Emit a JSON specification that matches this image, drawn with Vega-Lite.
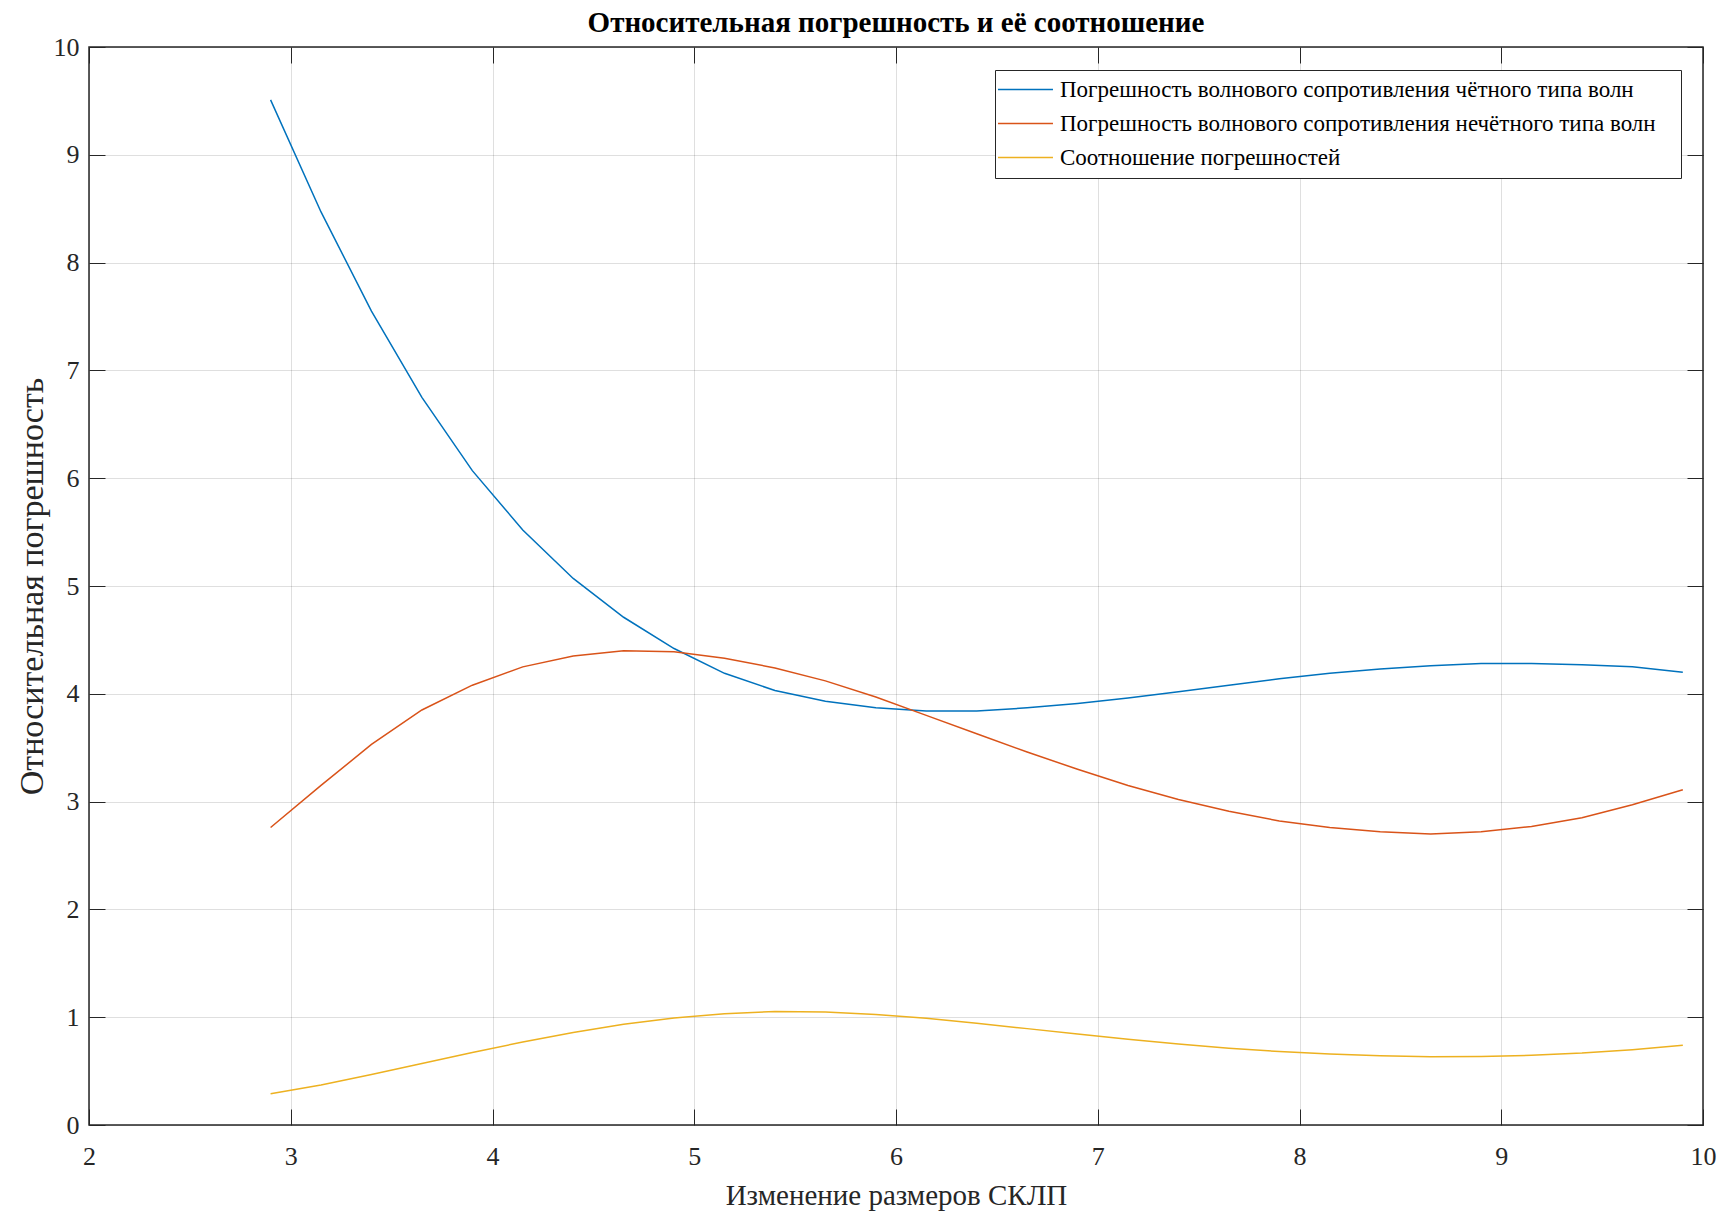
{
  "$schema": "https://vega.github.io/schema/vega-lite/v6.json",
  "autosize": "none",
  "width": 1614,
  "height": 1078,
  "padding": {"left": 89, "top": 47, "right": 25, "bottom": 100},
  "background": "white",
  "title": {
    "text": "Относительная погрешность и её соотношение",
    "font": "Liberation Serif",
    "fontSize": 29,
    "fontWeight": "bold",
    "color": "#000000",
    "anchor": "middle",
    "offset": -4
  },
  "config": {
    "view": {"stroke": "#262626", "strokeWidth": 1.5},
    "font": "Liberation Serif"
  },
  "data": {
    "values": [
      {"x": 2.9, "s": "Погрешность волнового сопротивления чётного типа волн", "v": 9.51},
      {"x": 3.15, "s": "Погрешность волнового сопротивления чётного типа волн", "v": 8.47},
      {"x": 3.4, "s": "Погрешность волнового сопротивления чётного типа волн", "v": 7.55},
      {"x": 3.65, "s": "Погрешность волнового сопротивления чётного типа волн", "v": 6.75},
      {"x": 3.9, "s": "Погрешность волнового сопротивления чётного типа волн", "v": 6.07},
      {"x": 4.15, "s": "Погрешность волнового сопротивления чётного типа волн", "v": 5.52},
      {"x": 4.4, "s": "Погрешность волнового сопротивления чётного типа волн", "v": 5.07},
      {"x": 4.65, "s": "Погрешность волнового сопротивления чётного типа волн", "v": 4.71},
      {"x": 4.9, "s": "Погрешность волнового сопротивления чётного типа волн", "v": 4.42},
      {"x": 5.15, "s": "Погрешность волнового сопротивления чётного типа волн", "v": 4.19},
      {"x": 5.4, "s": "Погрешность волнового сопротивления чётного типа волн", "v": 4.03},
      {"x": 5.65, "s": "Погрешность волнового сопротивления чётного типа волн", "v": 3.93},
      {"x": 5.9, "s": "Погрешность волнового сопротивления чётного типа волн", "v": 3.87},
      {"x": 6.15, "s": "Погрешность волнового сопротивления чётного типа волн", "v": 3.84},
      {"x": 6.4, "s": "Погрешность волнового сопротивления чётного типа волн", "v": 3.84},
      {"x": 6.65, "s": "Погрешность волнового сопротивления чётного типа волн", "v": 3.87},
      {"x": 6.9, "s": "Погрешность волнового сопротивления чётного типа волн", "v": 3.91},
      {"x": 7.15, "s": "Погрешность волнового сопротивления чётного типа волн", "v": 3.96},
      {"x": 7.4, "s": "Погрешность волнового сопротивления чётного типа волн", "v": 4.02},
      {"x": 7.65, "s": "Погрешность волнового сопротивления чётного типа волн", "v": 4.08},
      {"x": 7.9, "s": "Погрешность волнового сопротивления чётного типа волн", "v": 4.14},
      {"x": 8.15, "s": "Погрешность волнового сопротивления чётного типа волн", "v": 4.19},
      {"x": 8.4, "s": "Погрешность волнового сопротивления чётного типа волн", "v": 4.23},
      {"x": 8.65, "s": "Погрешность волнового сопротивления чётного типа волн", "v": 4.26},
      {"x": 8.9, "s": "Погрешность волнового сопротивления чётного типа волн", "v": 4.28},
      {"x": 9.15, "s": "Погрешность волнового сопротивления чётного типа волн", "v": 4.28},
      {"x": 9.4, "s": "Погрешность волнового сопротивления чётного типа волн", "v": 4.27},
      {"x": 9.65, "s": "Погрешность волнового сопротивления чётного типа волн", "v": 4.25},
      {"x": 9.9, "s": "Погрешность волнового сопротивления чётного типа волн", "v": 4.2},
      {"x": 2.9, "s": "Погрешность волнового сопротивления нечётного типа волн", "v": 2.76},
      {"x": 3.15, "s": "Погрешность волнового сопротивления нечётного типа волн", "v": 3.15},
      {"x": 3.4, "s": "Погрешность волнового сопротивления нечётного типа волн", "v": 3.53},
      {"x": 3.65, "s": "Погрешность волнового сопротивления нечётного типа волн", "v": 3.85},
      {"x": 3.9, "s": "Погрешность волнового сопротивления нечётного типа волн", "v": 4.08},
      {"x": 4.15, "s": "Погрешность волнового сопротивления нечётного типа волн", "v": 4.25},
      {"x": 4.4, "s": "Погрешность волнового сопротивления нечётного типа волн", "v": 4.35},
      {"x": 4.65, "s": "Погрешность волнового сопротивления нечётного типа волн", "v": 4.4},
      {"x": 4.9, "s": "Погрешность волнового сопротивления нечётного типа волн", "v": 4.39},
      {"x": 5.15, "s": "Погрешность волнового сопротивления нечётного типа волн", "v": 4.33},
      {"x": 5.4, "s": "Погрешность волнового сопротивления нечётного типа волн", "v": 4.24},
      {"x": 5.65, "s": "Погрешность волнового сопротивления нечётного типа волн", "v": 4.12},
      {"x": 5.9, "s": "Погрешность волнового сопротивления нечётного типа волн", "v": 3.97},
      {"x": 6.15, "s": "Погрешность волнового сопротивления нечётного типа волн", "v": 3.8},
      {"x": 6.4, "s": "Погрешность волнового сопротивления нечётного типа волн", "v": 3.63},
      {"x": 6.65, "s": "Погрешность волнового сопротивления нечётного типа волн", "v": 3.46},
      {"x": 6.9, "s": "Погрешность волнового сопротивления нечётного типа волн", "v": 3.3},
      {"x": 7.15, "s": "Погрешность волнового сопротивления нечётного типа волн", "v": 3.15},
      {"x": 7.4, "s": "Погрешность волнового сопротивления нечётного типа волн", "v": 3.02},
      {"x": 7.65, "s": "Погрешность волнового сопротивления нечётного типа волн", "v": 2.91},
      {"x": 7.9, "s": "Погрешность волнового сопротивления нечётного типа волн", "v": 2.82},
      {"x": 8.15, "s": "Погрешность волнового сопротивления нечётного типа волн", "v": 2.76},
      {"x": 8.4, "s": "Погрешность волнового сопротивления нечётного типа волн", "v": 2.72},
      {"x": 8.65, "s": "Погрешность волнового сопротивления нечётного типа волн", "v": 2.7},
      {"x": 8.9, "s": "Погрешность волнового сопротивления нечётного типа волн", "v": 2.72},
      {"x": 9.15, "s": "Погрешность волнового сопротивления нечётного типа волн", "v": 2.77},
      {"x": 9.4, "s": "Погрешность волнового сопротивления нечётного типа волн", "v": 2.85},
      {"x": 9.65, "s": "Погрешность волнового сопротивления нечётного типа волн", "v": 2.97},
      {"x": 9.9, "s": "Погрешность волнового сопротивления нечётного типа волн", "v": 3.11},
      {"x": 2.9, "s": "Соотношение погрешностей", "v": 0.29},
      {"x": 3.15, "s": "Соотношение погрешностей", "v": 0.372},
      {"x": 3.4, "s": "Соотношение погрешностей", "v": 0.468},
      {"x": 3.65, "s": "Соотношение погрешностей", "v": 0.57},
      {"x": 3.9, "s": "Соотношение погрешностей", "v": 0.672},
      {"x": 4.15, "s": "Соотношение погрешностей", "v": 0.77},
      {"x": 4.4, "s": "Соотношение погрешностей", "v": 0.858},
      {"x": 4.65, "s": "Соотношение погрешностей", "v": 0.934},
      {"x": 4.9, "s": "Соотношение погрешностей", "v": 0.993},
      {"x": 5.15, "s": "Соотношение погрешностей", "v": 1.033},
      {"x": 5.4, "s": "Соотношение погрешностей", "v": 1.052},
      {"x": 5.65, "s": "Соотношение погрешностей", "v": 1.048},
      {"x": 5.9, "s": "Соотношение погрешностей", "v": 1.026},
      {"x": 6.15, "s": "Соотношение погрешностей", "v": 0.99},
      {"x": 6.4, "s": "Соотношение погрешностей", "v": 0.945},
      {"x": 6.65, "s": "Соотношение погрешностей", "v": 0.894},
      {"x": 6.9, "s": "Соотношение погрешностей", "v": 0.844},
      {"x": 7.15, "s": "Соотношение погрешностей", "v": 0.795},
      {"x": 7.4, "s": "Соотношение погрешностей", "v": 0.751},
      {"x": 7.65, "s": "Соотношение погрешностей", "v": 0.713},
      {"x": 7.9, "s": "Соотношение погрешностей", "v": 0.681},
      {"x": 8.15, "s": "Соотношение погрешностей", "v": 0.659},
      {"x": 8.4, "s": "Соотношение погрешностей", "v": 0.643},
      {"x": 8.65, "s": "Соотношение погрешностей", "v": 0.634},
      {"x": 8.9, "s": "Соотношение погрешностей", "v": 0.636},
      {"x": 9.15, "s": "Соотношение погрешностей", "v": 0.647},
      {"x": 9.4, "s": "Соотношение погрешностей", "v": 0.667},
      {"x": 9.65, "s": "Соотношение погрешностей", "v": 0.699},
      {"x": 9.9, "s": "Соотношение погрешностей", "v": 0.74}
    ]
  },
  "resolve": {"axis": {"x": "independent", "y": "independent"}},
  "layer": [
    {
      "mark": {"type": "line", "strokeWidth": 1.5, "interpolate": "linear"},
      "encoding": {
        "x": {
          "field": "x", "type": "quantitative",
          "scale": {"domain": [2, 10], "nice": false, "zero": false},
          "axis": {
            "orient": "bottom",
            "values": [2, 3, 4, 5, 6, 7, 8, 9, 10],
            "title": "Изменение размеров СКЛП",
            "titleFont": "Liberation Serif", "titleFontSize": 29, "titleFontWeight": "normal", "titleColor": "#262626",
            "titlePadding": 12,
            "labelFont": "Liberation Serif", "labelFontSize": 26, "labelColor": "#262626",
            "labelPadding": 34,
            "labelFlush": false,
            "domain": false,
            "ticks": true, "tickSize": -16, "tickColor": "#262626", "tickWidth": 1,
            "grid": true, "gridColor": "#262626", "gridOpacity": 0.15, "gridWidth": 1
          }
        },
        "y": {
          "field": "v", "type": "quantitative",
          "scale": {"domain": [0, 10], "nice": false},
          "axis": {
            "orient": "left",
            "values": [0, 1, 2, 3, 4, 5, 6, 7, 8, 9, 10],
            "title": "Относительная погрешность",
            "titleFont": "Liberation Serif", "titleFontSize": 34, "titleFontWeight": "normal", "titleColor": "#262626",
            "titlePadding": 4,
            "labelFont": "Liberation Serif", "labelFontSize": 26, "labelColor": "#262626",
            "labelPadding": 26,
            "labelFlush": false,
            "domain": false,
            "ticks": true, "tickSize": -16, "tickColor": "#262626", "tickWidth": 1,
            "grid": true, "gridColor": "#262626", "gridOpacity": 0.15, "gridWidth": 1
          }
        },
        "color": {
          "field": "s", "type": "nominal",
          "scale": {
            "domain": [
              "Погрешность волнового сопротивления чётного типа волн",
              "Погрешность волнового сопротивления нечётного типа волн",
              "Соотношение погрешностей"
            ],
            "range": ["#0072BD", "#D95319", "#EDB120"]
          },
          "legend": {
            "title": null,
            "orient": "none",
            "legendX": 906,
            "legendY": 23,
            "direction": "vertical",
            "symbolType": "M-2.54,0H5.92",
            "symbolSize": 169,
            "symbolStrokeWidth": 1.5,
            "labelFont": "Liberation Serif",
            "labelFontSize": 23,
            "labelColor": "#000000",
            "labelLimit": 1000,
            "labelOffset": 34,
            "labelExpr": "datum.label + '\u2800'",
            "rowPadding": 10,
            "padding": 8,
            "strokeColor": "#262626",
            "fillColor": "white"
          }
        }
      }
    },
    {
      "mark": {"type": "line", "opacity": 0},
      "encoding": {
        "x": {
          "field": "x", "type": "quantitative",
          "axis": {
            "orient": "top",
            "values": [2, 3, 4, 5, 6, 7, 8, 9, 10],
            "title": null, "labels": false, "domain": false, "grid": false,
            "ticks": true, "tickSize": -16, "tickColor": "#262626", "tickWidth": 1
          }
        },
        "y": {
          "field": "v", "type": "quantitative",
          "axis": {
            "orient": "right",
            "values": [0, 1, 2, 3, 4, 5, 6, 7, 8, 9, 10],
            "title": null, "labels": false, "domain": false, "grid": false,
            "ticks": true, "tickSize": -16, "tickColor": "#262626", "tickWidth": 1
          }
        },
        "detail": {"field": "s", "type": "nominal"}
      }
    }
  ]
}
